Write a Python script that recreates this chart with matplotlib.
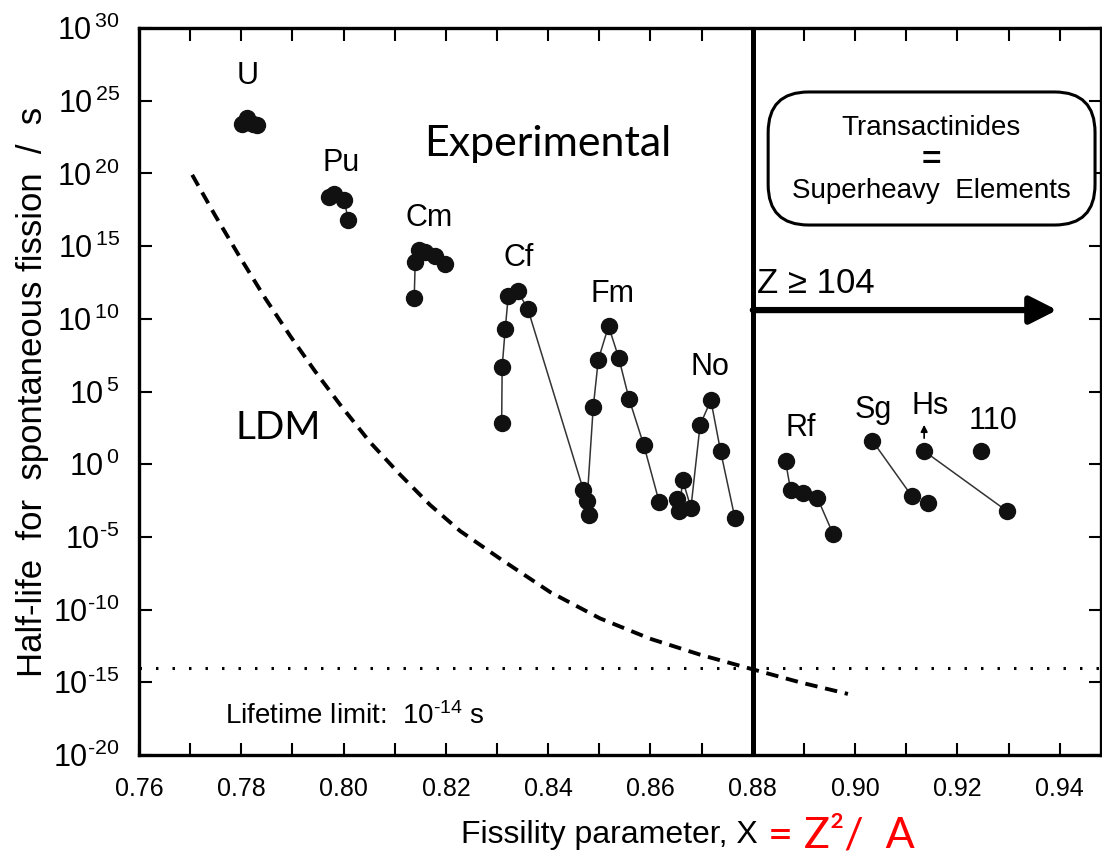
import math
import matplotlib
matplotlib.use("Agg")
import matplotlib.pyplot as plt
import matplotlib.ticker as mticker
from matplotlib.patches import FancyBboxPatch

NARROW = ['Liberation Sans', 'DejaVu Sans']
CALIBRI = ['Lato', 'DejaVu Sans']

plt.rcParams['font.family'] = NARROW
plt.rcParams['mathtext.fontset'] = 'custom'
plt.rcParams['mathtext.rm'] = 'Liberation Sans'
plt.rcParams['mathtext.it'] = 'Liberation Sans'

# experimental half-lives: fissility X and log10(T_sf / s)
u_x = [0.7801, 0.7812, 0.7823, 0.7831]
u_log = [23.4, 23.8, 23.4, 23.3]
pu_x = [0.7972, 0.7981, 0.8001, 0.8009]
pu_log = [18.4, 18.6, 18.2, 16.8]
cm_x = [0.8138, 0.8140, 0.8147, 0.8159, 0.8179, 0.8198]
cm_log = [11.4, 13.9, 14.7, 14.6, 14.3, 13.8]
cf_fm_x = [0.8309, 0.8310, 0.8316, 0.8322, 0.8340, 0.8360, 0.8469, 0.8476,
           0.8488, 0.8498, 0.8518, 0.8538, 0.8558, 0.8587, 0.8617]
cf_fm_log = [2.8, 6.7, 9.3, 11.6, 11.9, 10.7, -1.8, -2.5,
             3.9, 7.2, 9.5, 7.3, 4.5, 1.3, -2.6]
fm_extra_x = [0.8480]
fm_extra_log = [-3.5]
no_x = [0.8656, 0.8663, 0.8679, 0.8697, 0.8718, 0.8737, 0.8765]
no_log = [-3.2, -1.1, -3.0, 2.7, 4.4, 0.9, -3.7]
no_extra_x = [0.8652]
no_extra_log = [-2.4]
rf_x = [0.8864, 0.8874, 0.8899, 0.8926, 0.8957]
rf_log = [0.2, -1.8, -2.0, -2.3, -4.8]
sg_x = [0.9034, 0.9111]
sg_log = [1.6, -2.2]
sg_extra_x = [0.9143]
sg_extra_log = [-2.7]
hs_x = [0.9135, 0.9296]
hs_log = [0.9, -3.2]
e110_x = [0.9246]
e110_log = [0.9]

# liquid drop model estimate
ldm_x = [0.7704, 0.7749, 0.7798, 0.7847, 0.7896, 0.7944, 0.7993, 0.8052, 0.8110,
         0.8169, 0.8228, 0.8306, 0.8404, 0.8501, 0.8599, 0.8697, 0.8799, 0.8892, 0.8986]
ldm_log = [19.9, 17.1, 14.2, 11.4, 8.8, 6.4, 4.1, 1.5, -0.7,
           -2.8, -4.6, -6.5, -8.8, -10.6, -12.0, -13.1, -14.1, -15.0, -15.8]

labels = ['U', 'Pu', 'Cm', 'Cf', 'Fm', 'No', 'Rf', 'Sg', 'Hs', '110']
label_x = [0.7812, 0.7995, 0.8168, 0.8342, 0.8526, 0.8716, 0.8894, 0.9035, 0.9147, 0.9269]
label_log = [26.7, 20.7, 16.9, 14.2, 11.7, 6.7, 2.5, 3.7, 4.0, 3.0]

lifetime_limit = 1e-14
x_transactinide = 0.88


def exp_label(v, pos):
    e = round(math.log10(v))
    if e < 0:
        return '10$^{\\mathregular{\u2010%d}}$' % -e
    return r'10$^{\,\mathregular{%d}}$' % e


fig = plt.figure(figsize=(11.02, 8.63), dpi=100)
ax = fig.add_axes([139 / 1102, 108 / 863, 962 / 1102, 727 / 863])

ax.set_yscale('log')
ax.set_xlim(0.76, 0.76 + 962 / 5115)
ax.set_ylim(1e-20, 1e30)

ax.xaxis.set_major_locator(mticker.MultipleLocator(0.02))
ax.xaxis.set_minor_locator(mticker.MultipleLocator(0.01))
ax.xaxis.set_major_formatter(mticker.FormatStrFormatter('%.2f'))
ax.yaxis.set_major_locator(mticker.FixedLocator([10.0 ** e for e in range(-20, 31, 5)]))
ax.yaxis.set_minor_locator(mticker.NullLocator())
ax.yaxis.set_major_formatter(mticker.FuncFormatter(exp_label))

ax.tick_params(which='both', direction='in', top=True, right=True, length=9, width=1.5)
ax.tick_params(axis='x', labelsize=18, pad=16)
ax.tick_params(axis='y', labelsize=22, pad=14)
for s in ax.spines.values():
    s.set_linewidth(2.4)


def series(xs, logs, line=True):
    ys = [10.0 ** v for v in logs]
    ax.plot(xs, ys, color='#333333' if line else 'none', lw=1.1,
            marker='o', ms=11.5, mfc='#111111', mec='#111111', zorder=3)


series(u_x, u_log, line=False)
series(pu_x, pu_log)
series(cm_x, cm_log)
series(cf_fm_x, cf_fm_log)
series(fm_extra_x, fm_extra_log, line=False)
series(no_x, no_log)
series(no_extra_x, no_extra_log, line=False)
series(rf_x, rf_log)
series(sg_x, sg_log)
series(sg_extra_x, sg_extra_log, line=False)
series(hs_x, hs_log)
series(e110_x, e110_log, line=False)

ax.plot(ldm_x, [10.0 ** v for v in ldm_log], color='black', lw=2.8, ls=(0, (3.2, 2.0)))
ax.axhline(lifetime_limit, color='black', lw=2.2, ls=(0, (0.8, 4.6)))
ax.axvline(x_transactinide, color='black', lw=3.6)

for t, x, l in zip(labels, label_x, label_log):
    ax.text(x, 10.0 ** l, t, fontsize=22, ha='center', va='center')

ax.annotate('', xy=(0.9135, 10 ** 2.9), xytext=(0.9135, 10 ** 1.6),
            arrowprops=dict(arrowstyle='-|>', color='black', lw=1.2, mutation_scale=10))

# Z >= 104 arrow
ax.annotate('', xy=(0.9395, 10 ** 10.6), xytext=(x_transactinide, 10 ** 10.6),
            arrowprops=dict(arrowstyle='-|>,head_length=0.75,head_width=0.38',
                            color='black', lw=4.5, mutation_scale=22, shrinkA=0, shrinkB=0))
ax.text(0.8808, 10 ** 12.4, 'Z ≥ 104', fontsize=25, ha='left', va='center')

box = FancyBboxPatch((0.654, 0.729), 0.3398, 0.183, transform=ax.transAxes,
                     boxstyle='round,pad=0,rounding_size=0.042', mutation_aspect=962 / 727,
                     fc='white', ec='black', lw=2.2, zorder=4)
ax.add_patch(box)
ax.text(0.8235, 0.863, 'Transactinides', transform=ax.transAxes, fontsize=20,
        ha='center', va='center', zorder=5)
ax.text(0.8235, 0.818, '=', transform=ax.transAxes, fontsize=24, fontweight='bold',
        ha='center', va='center', zorder=5)
ax.text(0.8235, 0.776, 'Superheavy  Elements', transform=ax.transAxes, fontsize=20,
        ha='center', va='center', zorder=5)

ax.text(0.8400, 10 ** 22.0, 'Experimental', fontsize=31, family=CALIBRI, ha='center', va='center')
ax.text(0.7872, 10 ** 2.5, 'LDM', fontsize=28, family=CALIBRI, ha='center', va='center')
ax.text(0.7768, 10 ** -17.3, 'Lifetime limit:  10$^{\\mathregular{\u201014}}$ s', fontsize=20,
        ha='left', va='center')

fig.text(33 / 1102, 1 - 392 / 863, 'Half-life  for  spontaneous fission  /  s',
         rotation=90, fontsize=25, ha='center', va='center')
fig.text(758 / 1102, 1 - 835 / 863, 'Fissility parameter, X', fontsize=23,
         ha='right', va='center')
fig.text(768 / 1102, 1 - 835 / 863, '= Z²/  A', fontsize=31, family=CALIBRI, color='red',
         ha='left', va='center')

fig.savefig('out.png', dpi=100)
